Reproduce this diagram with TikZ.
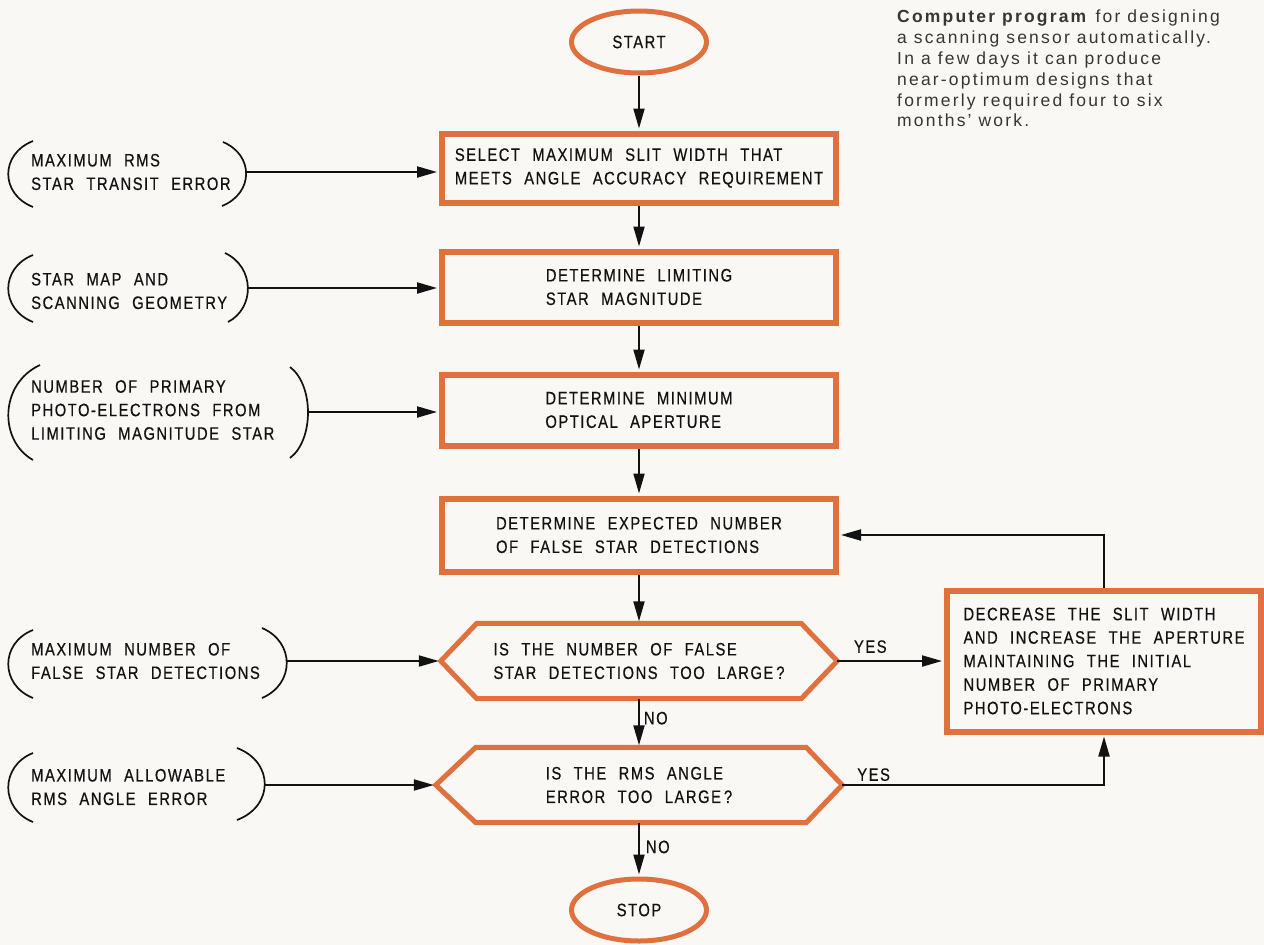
\documentclass[tikz,border=0pt]{standalone}
\usepackage{fontspec}
\setmainfont{Liberation Sans}
\newfontfamily\lerfont[FakeStretch=0.82,LetterSpace=8.5,WordSpace=2.2,FakeBold=0.5]{Liberation Sans}
\newfontfamily\capfont[LetterSpace=12.5]{Liberation Sans}
\usetikzlibrary{arrows.meta,shapes.geometric,calc}
\definecolor{ord}{RGB}{224,112,62}
\definecolor{bgc}{RGB}{249,248,245}
\definecolor{ink}{RGB}{18,18,18}
\begin{document}
\begin{tikzpicture}[x=1pt,y=-1pt,
  lbl/.style={font=\lerfont\fontsize{18}{23.5}\selectfont, text=ink, align=left, inner sep=0pt},
  procbox/.style={lbl, draw=ord, line width=6pt, minimum width=394pt},
  termnode/.style={lbl, ellipse, draw=ord, line width=5pt, minimum width=135pt, minimum height=62pt},
  hexnode/.style={lbl, minimum height=75pt},
  hexline/.style={draw=ord, line width=5pt, line join=miter},
  brk/.style={draw=ink, line width=1.7pt},
  arr/.style={draw=ink, line width=2pt, -{Triangle[length=20pt,width=11pt]}, shorten >=2pt},
  capt/.style={font=\capfont\fontsize{17.5}{20.8}\selectfont, text=ink!85, align=left, inner sep=0pt}
]
\fill[bgc] (0,0) rectangle (1264,945);
\useasboundingbox (0,0) rectangle (1264,945);

% terminals
\node[termnode] (start) at (639,42) {START};
\node[termnode] (stop) at (639,910) {STOP};

% process boxes
\node[procbox, minimum height=69pt] (b1) at (639,168) {SELECT MAXIMUM SLIT WIDTH THAT\\MEETS ANGLE ACCURACY REQUIREMENT};
\node[procbox, minimum height=71pt] (b2) at (639,287) {DETERMINE LIMITING\\STAR MAGNITUDE};
\node[procbox, minimum height=71pt] (b3) at (639,410) {DETERMINE MINIMUM\\OPTICAL APERTURE};
\node[procbox, minimum height=73pt] (b4) at (639,535) {DETERMINE EXPECTED NUMBER\\OF FALSE STAR DETECTIONS};

% decisions
\node[hexnode, minimum width=396pt] (h1) at (639,661) {IS THE NUMBER OF FALSE\\STAR DETECTIONS TOO LARGE\thinspace?};
\draw[hexline] (h1.west) -- ([xshift=36pt]h1.north west) -- ([xshift=-36pt]h1.north east) -- (h1.east) -- ([xshift=-36pt]h1.south east) -- ([xshift=36pt]h1.south west) -- cycle;
\node[hexnode, minimum width=406pt] (h2) at (639,785) {IS THE RMS ANGLE\\ERROR TOO LARGE\thinspace?};
\draw[hexline] (h2.west) -- ([xshift=40pt]h2.north west) -- ([xshift=-36pt]h2.north east) -- (h2.east) -- ([xshift=-36pt]h2.south east) -- ([xshift=40pt]h2.south west) -- cycle;

% feedback box
\node[procbox, minimum width=314pt, minimum height=141pt] (r) at (1104,661) {DECREASE THE SLIT WIDTH\\AND INCREASE THE APERTURE\\MAINTAINING THE INITIAL\\NUMBER OF PRIMARY\\PHOTO-ELECTRONS};

% inputs
\node[lbl, anchor=west] (i1) at (31,172) {MAXIMUM RMS\\STAR TRANSIT ERROR};
\draw[brk] (33,141) .. controls (0,154) and (0,194) .. (33,207);
\draw[brk] (223,142) .. controls (254,155) and (254,193) .. (222,206);
\coordinate (i1r) at (246,172);

\node[lbl, anchor=west] (i2) at (31,291) {STAR MAP AND\\SCANNING GEOMETRY};
\draw[brk] (33,255) .. controls (0,268) and (0,309) .. (33,322);
\draw[brk] (225,253) .. controls (255,267) and (255,308) .. (228,322);
\coordinate (i2r) at (248,288);

\node[lbl, anchor=west] (i3) at (31,410) {NUMBER OF PRIMARY\\PHOTO-ELECTRONS FROM\\LIMITING MAGNITUDE STAR};
\draw[brk] (40,365) .. controls (-1,384) and (-1,441) .. (33,460);
\draw[brk] (290,367) .. controls (314,385) and (314,440) .. (290,458);
\coordinate (i3r) at (308,412);

\node[lbl, anchor=west] (i4) at (31,661) {MAXIMUM NUMBER OF\\FALSE STAR DETECTIONS};
\draw[brk] (33,630) .. controls (0,643) and (0,685) .. (33,698);
\draw[brk] (262,628) .. controls (295,642) and (295,684) .. (262,698);
\coordinate (i4r) at (287,661);

\node[lbl, anchor=west] (i5) at (31,787) {MAXIMUM ALLOWABLE\\RMS ANGLE ERROR};
\draw[brk] (33,753) .. controls (0,766) and (0,809) .. (33,822);
\draw[brk] (237,748) .. controls (274,762) and (274,806) .. (237,820);
\coordinate (i5r) at (265,785);

% input connectors
\draw[arr] (i1r) -- (i1r -| b1.west);
\draw[arr] (i2r) -- (i2r -| b2.west);
\draw[arr] (i3r) -- (i3r -| b3.west);
\draw[arr] (i4r) -- (h1.west);
\draw[arr] (i5r) -- (h2.west);

% main flow
\draw[arr] (start.south) -- (b1.north);
\draw[arr] (b1.south) -- (b2.north);
\draw[arr] (b2.south) -- (b3.north);
\draw[arr] (b3.south) -- (b4.north);
\draw[arr] (b4.south) -- (h1.north);
\draw[arr] (h1.south) -- node[lbl, pos=0.4, anchor=west, xshift=4pt] {NO} (h2.north);
\draw[arr] (h2.south) -- node[lbl, pos=0.45, anchor=west, xshift=6pt] {NO} (stop.north);

% yes branches and loop
\draw[arr] (h1.east) -- node[lbl, pos=0.31, above=7pt] {YES} (r.west);
\draw[arr] (h2.east) -| node[lbl, pos=0.06, above=3pt] {YES} (r.south);
\draw[arr] (r.north) |- (b4.east);

% caption
\node[capt, anchor=north west] (cap) at (897,10) {\textbf{Computer program} for designing\\a scanning sensor automatically.\\In a few days it can produce\\near-optimum designs that\\formerly required four to six\\months’ work.};
\end{tikzpicture}
\end{document}
